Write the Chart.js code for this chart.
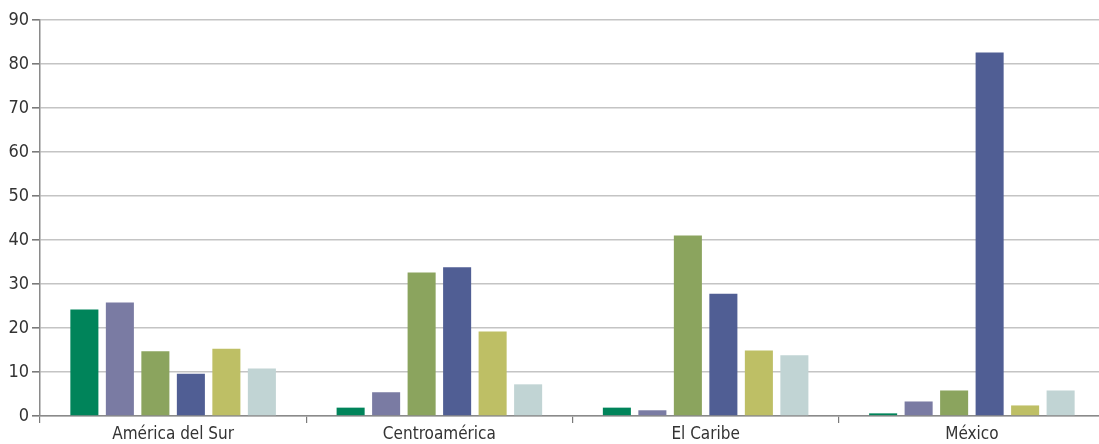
<!DOCTYPE html>
<html>
<head>
<meta charset="utf-8">
<script src="https://cdn.jsdelivr.net/npm/chart.js@4/dist/chart.umd.min.js"></script>
<style>
  html, body { margin: 0; padding: 0; background: #fff; overflow: hidden; }
  .chart_container { position: relative; width: 1105px; height: 444px; }
</style>
</head>
<body>
<div class="chart_container"><canvas id="myChart"></canvas></div>
<script>
// categories and tick labels
const regions = ["América del Sur", "Centroamérica", "El Caribe", "México"]
const yTicks = [0, 10, 20, 30, 40, 50, 60, 70, 80, 90]

// six series, one value per region
const serie1 = [24.2, 1.9, 1.9, 0.6]
const serie2 = [25.8, 5.4, 1.3, 3.3]
const serie3 = [14.7, 32.6, 41.0, 5.8]
const serie4 = [9.6, 33.8, 27.8, 82.6]
const serie5 = [15.3, 19.2, 14.9, 2.4]
const serie6 = [10.8, 7.2, 13.8, 5.8]

const colors = ["#00845a", "#7a7ba3", "#8ba45e", "#505e94", "#bebf65", "#c1d4d4"]
const allSeries = [serie1, serie2, serie3, serie4, serie5, serie6]

const fontFamily = "'Liberation Sans Narrow', 'DejaVu Sans Condensed', 'Roboto', sans-serif"

let ctx = document.getElementById("myChart").getContext("2d")
let barChart = new Chart(ctx, {
  type: "bar",
  data: {
    labels: regions,
    datasets: allSeries.map(function(values, i) {
      return {
        label: "Serie " + (i + 1),
        data: values,
        backgroundColor: colors[i],
        borderWidth: 0,
        categoryPercentage: 0.8,
        barPercentage: 0.79
      }
    })
  },
  options: {
    responsive: true,
    maintainAspectRatio: false,
    animation: false,
    layout: {
      padding: { top: 20, right: 0, left: 0, bottom: 0 }
    },
    plugins: {
      legend: { display: false },
      tooltip: { enabled: false }
    },
    scales: {
      x: {
        grid: {
          offset: true,
          drawOnChartArea: false,
          drawTicks: true,
          tickLength: 7,
          color: "#7a7a7a",
          lineWidth: 1.2
        },
        border: { color: "#8a8a8a", width: 1.5 },
        ticks: {
          color: "#333333",
          padding: 1,
          font: { family: fontFamily, size: 17 }
        },
        afterFit: function(scale) { scale.height = 28 }
      },
      y: {
        min: 0,
        max: 90,
        afterBuildTicks: function(scale) {
          scale.ticks = yTicks.map(function(v) { return { value: v } })
        },
        grid: {
          color: "#c4c4c4",
          lineWidth: 1.6,
          tickColor: "#7a7a7a",
          tickLength: 8
        },
        border: { color: "#8a8a8a", width: 1.5 },
        ticks: {
          color: "#333333",
          padding: 3,
          font: { family: fontFamily, size: 18 }
        },
        afterFit: function(scale) { scale.width = 40 }
      }
    }
  }
})
</script>
</body>
</html>
